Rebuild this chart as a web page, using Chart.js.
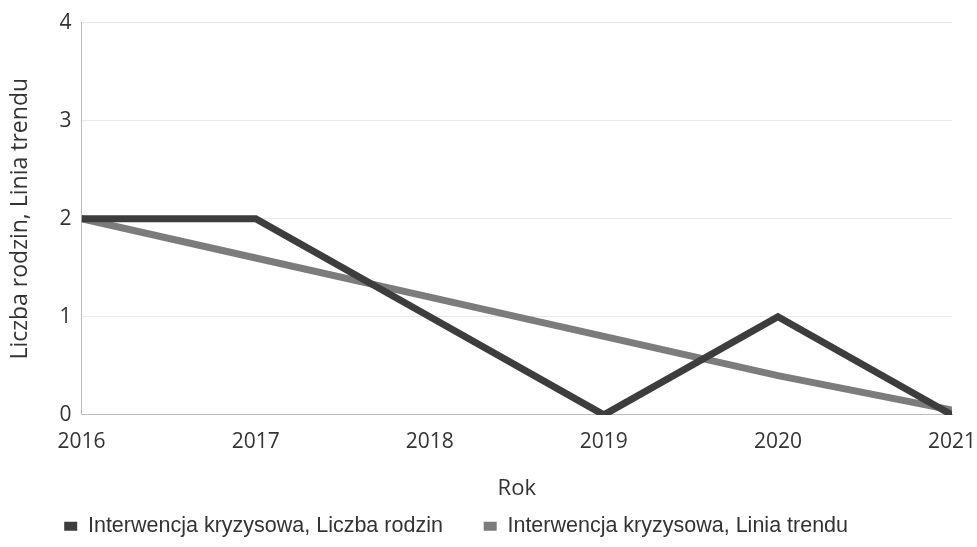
<!DOCTYPE html>
<html><head><meta charset="utf-8">
<script src="https://cdn.jsdelivr.net/npm/chart.js@4/dist/chart.umd.min.js"></script>
<style>html,body{margin:0;padding:0;background:#fff}#wrap{width:977px;height:547px}</style>
</head><body><div id="wrap"><canvas id="c" width="977" height="547"></canvas></div>
<script>
const years = [2016, 2017, 2018, 2019, 2020, 2021];
const liczbaRodzin = [2, 2, 1, 0, 1, 0];
const liniaTrendu = [2, 1.6, 1.2, 0.8, 0.4, 0.05];
const seriesNames = ["Interwencja kryzysowa, Liczba rodzin", "Interwencja kryzysowa, Linia trendu"];
const yTicks = [0, 1, 2, 3, 4];

const toPts = arr => years.map((y, i) => ({x: y, y: arr[i]}));
const legendGap = ['      ', '         '];

new Chart(document.getElementById('c'), {
  type: 'line',
  data: {
    datasets: [
      {label: seriesNames[0], data: toPts(liczbaRodzin), borderColor: '#3d3d3d', backgroundColor: '#3d3d3d', borderWidth: 7, pointRadius: 0, tension: 0},
      {label: seriesNames[1], data: toPts(liniaTrendu), borderColor: '#7c7c7c', backgroundColor: '#7c7c7c', borderWidth: 7, pointRadius: 0, tension: 0}
    ]
  },
  options: {
    responsive: false,
    animation: false,
    layout: {padding: {left: 0, right: 11, top: 9, bottom: 0}},
    plugins: {
      legend: {
        position: 'bottom',
        labels: {
          font: {family: 'Liberation Sans', size: 21.5},
          color: '#333',
          boxWidth: 13, boxHeight: 9,
          padding: 5,
          generateLabels: chart => Chart.defaults.plugins.legend.labels.generateLabels(chart)
            .map((l, i) => Object.assign(l, {text: l.text + legendGap[i], lineWidth: 0}))
        }
      },
      tooltip: {enabled: false}
    },
    scales: {
      x: {
        type: 'linear', min: years[0], max: years[years.length - 1],
        afterBuildTicks: s => { s.ticks = years.map(v => ({value: v})); },
        afterFit: s => { s.paddingRight = 25; },
        ticks: {callback: v => String(v), font: {family: 'Open Sans', size: 21}, color: '#333', maxRotation: 0, padding: 15},
        grid: {display: false, drawTicks: false},
        border: {color: '#bdbdbd', width: 1},
        title: {display: true, text: 'Rok', font: {family: 'Open Sans', size: 22}, color: '#333', padding: {top: 5, bottom: 9}}
      },
      y: {
        min: 0, max: 4,
        afterBuildTicks: s => { s.ticks = yTicks.map(v => ({value: v})); },
        ticks: {font: {family: 'Open Sans', size: 21}, color: '#333', padding: 10},
        grid: {color: '#e8e8e8', lineWidth: 1, drawTicks: false},
        border: {color: '#bdbdbd', width: 1},
        title: {display: true, text: 'Liczba rodzin, Linia trendu', font: {family: 'Open Sans', size: 23}, color: '#333', padding: {top: 7, bottom: 15}}
      }
    }
  }
});
</script></body></html>
